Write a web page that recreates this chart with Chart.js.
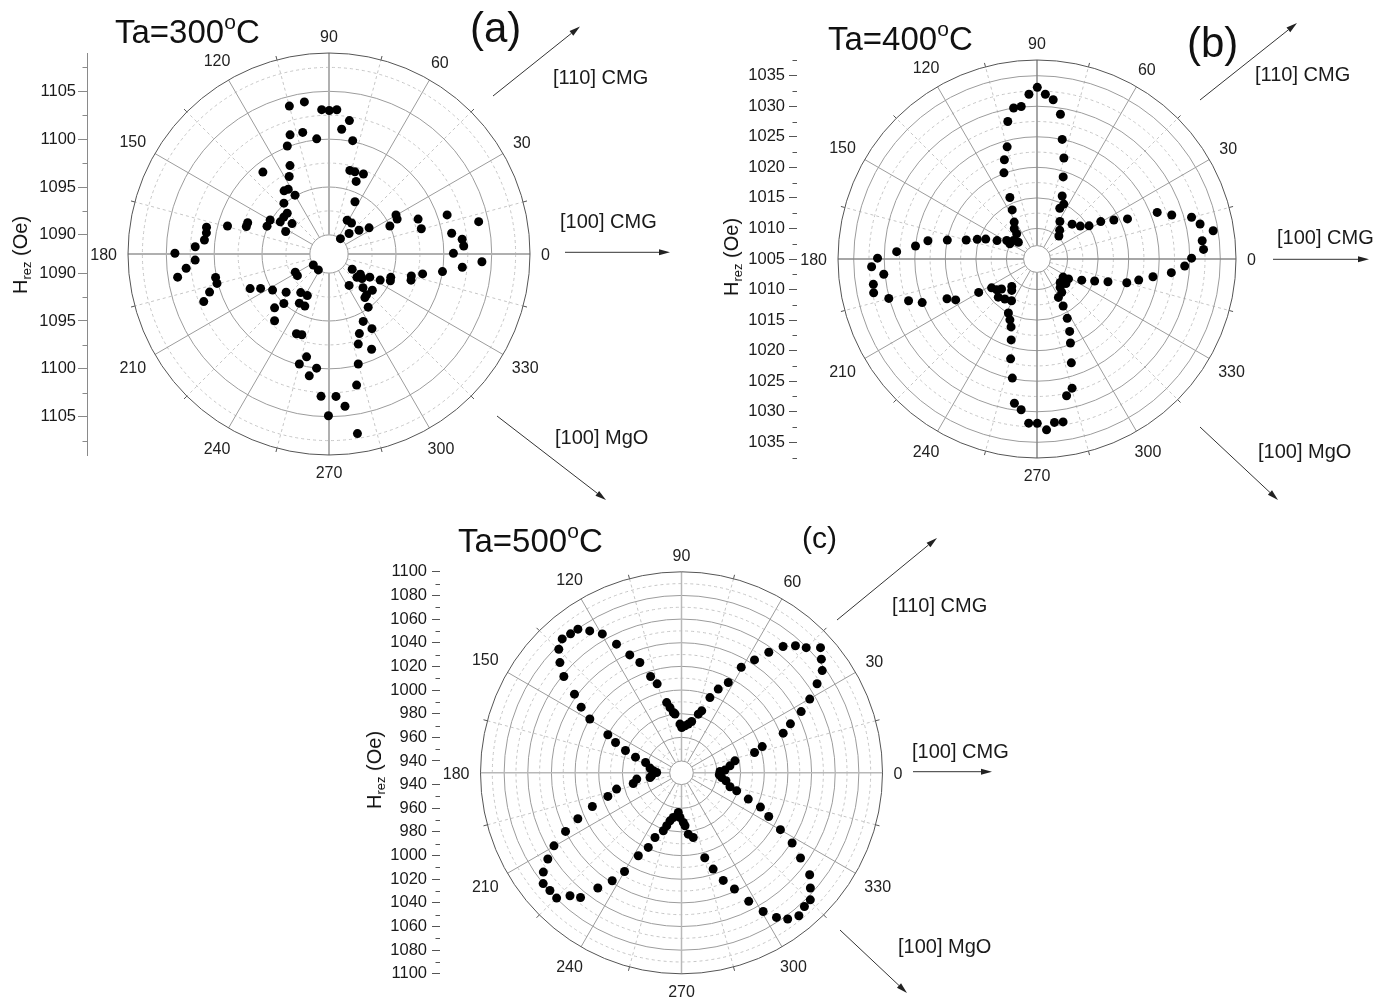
<!DOCTYPE html>
<html><head><meta charset="utf-8">
<script src="https://cdn.jsdelivr.net/npm/chart.js@4/dist/chart.umd.min.js"></script>
<style>
html,body{margin:0;padding:0;background:#fff;}
body{width:1386px;height:1003px;position:relative;overflow:hidden;font-family:"Liberation Sans",Arial,sans-serif;color:#111;}
canvas{position:absolute;}
.t{position:absolute;white-space:nowrap;line-height:1;}
.sup{font-size:21px;vertical-align:14px;line-height:0;}
.ylab{position:absolute;white-space:nowrap;line-height:1;font-size:20px;transform:translate(-50%,-50%) rotate(-90deg);color:#111;}
.ylab sub{font-size:13px;vertical-align:-4px;line-height:0;}
.d{font-size:20px;color:#1a1a1a;}
</style></head><body>
<canvas id="cA" width="690" height="510" style="left:0px;top:0px"></canvas>
<canvas id="cB" width="696" height="510" style="left:690px;top:0px"></canvas>
<canvas id="cC" width="680" height="493" style="left:340px;top:510px"></canvas>

<div class="t" style="left:115px;top:14.8px;font-size:33px">Ta=300<span class="sup">o</span>C</div>
<div class="t" style="left:828px;top:22.1px;font-size:33px">Ta=400<span class="sup">o</span>C</div>
<div class="t" style="left:458px;top:523.8px;font-size:33px">Ta=500<span class="sup">o</span>C</div>
<div class="t" style="left:470px;top:7.2px;font-size:42px">(a)</div>
<div class="t" style="left:1187px;top:22.4px;font-size:42px">(b)</div>
<div class="t" style="left:802px;top:523.2px;font-size:30px">(c)</div>

<div class="t d" style="left:553px;top:67.4px">[110] CMG</div>
<div class="t d" style="left:560px;top:210.8px">[100] CMG</div>
<div class="t d" style="left:555px;top:427.4px">[100] MgO</div>
<div class="t d" style="left:1255px;top:64.1px">[110] CMG</div>
<div class="t d" style="left:1277px;top:227.4px">[100] CMG</div>
<div class="t d" style="left:1258px;top:440.8px">[100] MgO</div>
<div class="t d" style="left:892px;top:594.6px">[110] CMG</div>
<div class="t d" style="left:912px;top:740.8px">[100] CMG</div>
<div class="t d" style="left:898px;top:935.8px">[100] MgO</div>

<div class="ylab" style="left:20px;top:255px">H<sub>rez</sub> (Oe)</div>
<div class="ylab" style="left:730.5px;top:256.5px">H<sub>rez</sub> (Oe)</div>
<div class="ylab" style="left:373.7px;top:770px">H<sub>rez</sub> (Oe)</div>

<script>
// ---------- data: angle (deg) and resonance field H_rez (Oe) ----------
const angleLabels = [0,30,60,90,120,150,180,210,240,270,300,330];

// (a) Ta = 300 C
const angA = [105.0,99.2,92.9,89.9,86.9,81.3,84.2,78.2,96.1,102.2,
108.1,111.1,113.8,117.2,128.9,125.4,122.2,120.0,131.6,135.7,
140.8,146.6,140.5,152.6,150.0,155.8,159.0,161.6,164.6,167.7,
170.2,173.6,176.9,179.7,188.7,185.7,182.6,191.7,194.7,197.7,
200.8,203.7,206.7,212.6,221.7,227.6,224.7,230.8,208.3,214.4,
233.8,242.5,238.9,245.1,215.0,236.2,247.8,251.4,257.7,254.9,
263.8,260.8,266.8,272.8,269.8,53.3,76.0,72.5,66.7,69.5,
63.6,61.7,54.0,45.6,38.4,33.1,30.2,27.1,24.7,21.4,
15.3,18.3,9.6,6.3,3.4,12.2,0.3,357.1,354.3,351.2,
348.0,345.1,342.3,339.3,336.4,333.0,330.4,327.2,323.4,326.7,
320.1,302.6,315.3,312.6,309.5,306.4,296.9,299.9,290.9,288.0,
294.1,284.9,281.9,276.0,279.0,320.1];
const hA = [1104.0,1104.1,1103.1,1103.0,1103.1,1102.1,1101.1,1100.1,1100.1,1101.0,
1101.1,1100.1,1098.1,1097.1,1099.0,1096.1,1096.0,1095.1,1095.1,1094.1,
1094.1,1094.1,1093.0,1093.1,1095.1,1095.1,1097.1,1097.1,1099.0,1101.1,
1101.0,1101.1,1102.0,1104.1,1104.0,1103.0,1102.0,1100.1,1100.1,1101.1,
1102.0,1097.0,1096.0,1095.0,1094.0,1095.0,1096.0,1097.0,1092.0,1092.0,
1093.0,1092.9,1094.0,1094.0,1090.0,1090.0,1097.0,1096.9,1099.0,1099.9,
1100.0,1100.9,1102.9,1102.9,1104.9,1090.0,1097.0,1097.0,1097.1,1096.1,
1094.1,1092.0,1092.0,1091.0,1092.0,1093.0,1096.1,1096.0,1095.0,1098.0,
1098.0,1101.0,1101.0,1102.0,1102.1,1104.0,1101.0,1104.0,1102.0,1100.0,
1098.0,1096.9,1097.0,1094.9,1095.0,1094.0,1092.9,1091.9,1092.3,1090.9,
1091.8,1091.9,1093.0,1093.8,1093.9,1094.9,1095.9,1097.0,1096.9,1097.9,
1098.9,1099.9,1102.0,1104.0,1107.0,1093.9];
const ticksA = [1090,1095,1100,1105];
const minorA = [1092.5,1097.5,1102.5,1107.5];

// (b) Ta = 400 C
const angB = [89.9,92.8,95.9,98.8,102.0,104.9,108.2,111.0,113.8,116.8,
121.7,126.9,128.9,142.0,138.1,150.6,148.6,155.3,158.8,161.8,
165.0,168.1,170.5,173.9,177.0,179.7,182.7,185.7,188.8,191.7,
194.9,198.0,200.8,203.8,206.7,209.8,212.4,217.4,220.2,227.4,
231.2,224.6,231.2,238.6,242.1,246.0,249.1,252.3,255.2,258.3,
261.1,264.0,267.1,270.1,273.2,276.1,279.1,282.2,285.2,288.3,
291.7,294.3,297.0,299.1,299.1,306.6,309.2,314.7,319.8,325.3,
327.7,334.7,339.1,342.2,345.2,348.3,351.3,354.2,357.3,0.3,
3.3,6.3,9.1,12.1,15.1,18.1,21.2,23.9,26.9,30.4,
32.5,37.2,44.8,46.5,51.8,58.6,65.8,64.0,68.2,72.3,
75.1,78.1,80.8,84.2,87.1];
const hB = [1033.1,1032.0,1030.1,1030.0,1028.0,1024.0,1022.1,1020.1,1016.0,1014.0,
1012.1,1011.2,1010.3,1009.9,1009.1,1010.1,1010.8,1012.2,1014.0,1015.3,
1017.0,1020.0,1023.1,1025.0,1028.0,1031.1,1032.1,1030.2,1032.1,1032.3,
1030.1,1027.1,1025.1,1021.1,1019.9,1016.0,1013.8,1013.3,1012.6,1011.1,
1011.6,1013.9,1013.4,1013.0,1015.0,1015.9,1016.9,1018.9,1021.9,1024.9,
1028.9,1029.8,1031.9,1031.9,1033.0,1031.9,1032.0,1027.9,1026.9,1022.9,
1019.8,1018.0,1015.9,1013.8,1012.2,1011.8,1011.0,1010.4,1011.2,1010.2,
1011.1,1013.1,1015.1,1017.2,1020.2,1022.0,1024.2,1027.1,1029.2,1030.3,
1032.3,1032.2,1034.2,1032.3,1031.2,1028.2,1026.1,1021.2,1019.1,1017.1,
1015.1,1013.9,1013.1,1010.2,1011.0,1012.2,1014.1,1015.0,1016.1,1019.1,
1022.1,1025.0,1029.0,1031.2,1032.0];
const ticksB = [1005,1010,1015,1020,1025,1030,1035];
const minorB = [1007.5,1012.5,1017.5,1022.5,1027.5,1032.5,1037.5];

// (c) Ta = 500 C
const angC = [125.8,128.6,131.7,134.8,137.8,140.7,143.7,146.8,149.6,152.7,
155.3,158.3,161.2,164.0,171.5,175.9,179.3,185.7,188.5,188.0,
192.5,194.1,197.8,200.7,203.9,206.8,209.8,212.8,215.7,218.7,
221.8,225.1,227.8,231.0,234.0,237.3,240.0,242.5,246.0,247.7,
252.6,254.4,256.5,259.6,265.4,268.1,272.1,273.8,276.3,280.3,
285.3,288.2,291.2,294.5,297.6,300.5,303.3,306.0,309.4,312.6,
315.4,318.2,321.5,324.4,327.6,330.1,333.4,336.5,338.5,341.9,
343.9,349.8,353.3,357.0,1.9,3.6,8.2,12.6,15.5,18.0,
21.3,24.2,27.1,29.9,33.3,36.0,39.1,42.0,45.1,48.1,
51.2,54.1,57.1,60.5,62.6,66.3,69.3,71.9,74.0,78.8,
82.1,85.7,89.7,91.8,96.3,97.7,100.0,101.9,105.3,107.8,
110.7,113.7,116.8,119.7,122.9];
const hC = [1079.8,1080.4,1081.7,1077.3,1068.8,1058.6,1042.3,1031.4,1019.9,1000.1,
991.4,981.0,971.1,961.6,956.9,953.9,951.0,955.4,956.9,968.2,
971.8,986.6,995.4,1010.6,1025.9,1039.9,1054.3,1064.5,1073.9,1079.9,
1079.3,1079.6,1070.4,1065.7,1050.4,1038.5,1026.4,1009.1,999.1,989.1,
981.4,976.5,971.8,968.4,963.6,967.8,972.0,974.9,982.2,985.6,
1004.5,1015.7,1027.6,1038.0,1052.7,1066.1,1076.3,1082.8,1086.4,1083.6,
1083.0,1076.2,1068.5,1053.8,1040.8,1026.5,1012.5,1002.8,990.7,979.1,
972.7,968.2,964.2,962.0,962.6,966.8,971.4,976.3,994.1,1001.8,
1022.3,1031.0,1043.7,1055.1,1067.2,1077.1,1082.4,1088.2,1079.4,1074.3,
1067.1,1055.9,1043.7,1032.6,1016.0,1007.3,998.0,985.1,981.6,974.2,
971.6,969.8,968.3,971.2,980.0,981.5,986.0,990.7,1008.0,1015.5,
1029.7,1038.9,1051.9,1065.2,1072.9];
const ticksC = [940,960,980,1000,1020,1040,1060,1080,1100];
const minorC = [950,970,990,1010,1030,1050,1070,1090];

// ---------- drawing ----------
const FONT = '"Liberation Sans", Arial, sans-serif';

function makePanel(p) {
  const W = 80;
  const padL = p.axisX - p.left - W;
  const padR = p.left + p.cw - (p.cx + p.R);
  const padT = p.cy - p.R - p.top;
  const padB = p.top + p.ch - (p.cy + p.R);
  const Ru = p.R / p.k;
  const pts = p.ang.map((a, i) => {
    const r = p.h[i] - p.Hc, t = a * Math.PI / 180;
    return {x: r * Math.cos(t), y: r * Math.sin(t)};
  });
  const majorOff = [];
  p.major.forEach(v => { const o = v - p.Hc; if (Math.abs(o) < 1e-9) majorOff.push(0); else { majorOff.push(o, -o); } });
  majorOff.sort((a, b) => a - b);

  const plugin = {
    id: 'polar_' + p.id,
    beforeDatasetsDraw(chart) {
      const ctx = chart.ctx, xs = chart.scales.x, ys = chart.scales.y;
      const X = xs.getPixelForValue(0), Y = ys.getPixelForValue(0);
      const rad = v => Math.abs(ys.getPixelForValue(v - p.Hc) - Y);
      const Rpx = Math.abs(ys.getPixelForValue(Ru) - Y);
      const r0 = rad(p.Hc + p.hole);
      ctx.save();
      // dashed minor circles
      ctx.setLineDash([3, 3]); ctx.lineWidth = 1; ctx.strokeStyle = '#c6c6c6';
      p.minor.forEach(v => { const r = rad(v); if (r > r0 + 2 && r < Rpx - 2) { ctx.beginPath(); ctx.arc(X, Y, r, 0, 2 * Math.PI); ctx.stroke(); } });
      for (let a = 15; a < 360; a += 30) {
        const t = a * Math.PI / 180;
        ctx.beginPath(); ctx.moveTo(X + r0 * Math.cos(t), Y - r0 * Math.sin(t));
        ctx.lineTo(X + Rpx * Math.cos(t), Y - Rpx * Math.sin(t)); ctx.stroke();
      }
      ctx.setLineDash([]);
      // solid major circles
      ctx.strokeStyle = '#9c9c9c';
      p.major.forEach(v => { const r = rad(v); if (r > r0 + 1 && r < Rpx - 1) { ctx.beginPath(); ctx.arc(X, Y, r, 0, 2 * Math.PI); ctx.stroke(); } });
      // solid radial lines
      for (let a = 0; a < 360; a += 30) {
        const t = a * Math.PI / 180;
        const main = (a % 90 === 0);
        ctx.strokeStyle = main ? p.mainLine : '#9c9c9c';
        ctx.lineWidth = main ? p.mainWidth : 1;
        ctx.beginPath(); ctx.moveTo(X + r0 * Math.cos(t), Y - r0 * Math.sin(t));
        ctx.lineTo(X + Rpx * Math.cos(t), Y - Rpx * Math.sin(t)); ctx.stroke();
      }
      ctx.lineWidth = 1;
      // hole
      ctx.fillStyle = '#fff'; ctx.strokeStyle = '#9c9c9c';
      ctx.beginPath(); ctx.arc(X, Y, r0, 0, 2 * Math.PI); ctx.fill(); ctx.stroke();
      // outer circle
      ctx.strokeStyle = '#555';
      ctx.beginPath(); ctx.arc(X, Y, Rpx, 0, 2 * Math.PI); ctx.stroke();
      for (let a = 15; a < 360; a += 30) {
        const t = a * Math.PI / 180;
        ctx.beginPath(); ctx.moveTo(X + Rpx * Math.cos(t), Y - Rpx * Math.sin(t));
        ctx.lineTo(X + (Rpx + 4) * Math.cos(t), Y - (Rpx + 4) * Math.sin(t)); ctx.stroke();
      }
      // minor ticks of the H axis
      const L = chart.chartArea.left;
      ctx.strokeStyle = p.tickColor;
      p.minor.forEach(v => {
        [1, -1].forEach(s => {
          const off = s * (v - p.Hc);
          if (Math.abs(off) <= Ru + 1e-6) {
            const y = Math.round(ys.getPixelForValue(off)) + 0.5;
            ctx.beginPath(); ctx.moveTo(L - 4.5, y); ctx.lineTo(L, y); ctx.stroke();
          }
        });
      });
      ctx.restore();
    },
    afterDraw(chart) {
      const ctx = chart.ctx, xs = chart.scales.x, ys = chart.scales.y;
      const X = xs.getPixelForValue(0), Y = ys.getPixelForValue(0);
      const Rpx = Math.abs(ys.getPixelForValue(Ru) - Y);
      ctx.save();
      ctx.font = '16px ' + FONT; ctx.fillStyle = '#222';
      ctx.textAlign = 'center'; ctx.textBaseline = 'alphabetic';
      angleLabels.forEach(a => {
        const t = a * Math.PI / 180, s = String(a);
        const w = ctx.measureText(s).width;
        const ext = Math.abs(Math.cos(t)) * w / 2 + Math.abs(Math.sin(t)) * 6;
        const rr = Rpx + 11 + ext;
        ctx.fillText(s, X + rr * Math.cos(t), Y - rr * Math.sin(t) + 5.8);
      });
      // direction arrows
      ctx.strokeStyle = '#333'; ctx.fillStyle = '#222'; ctx.lineWidth = 1;
      p.arrows.forEach(ar => {
        const x1 = ar[0] - p.left, y1 = ar[1] - p.top, x2 = ar[2] - p.left, y2 = ar[3] - p.top;
        const ang = Math.atan2(y2 - y1, x2 - x1);
        const hl = 11, hw = 3;
        const bx = x2 - hl * Math.cos(ang), by = y2 - hl * Math.sin(ang);
        ctx.beginPath(); ctx.moveTo(x1, y1); ctx.lineTo(bx, by); ctx.stroke();
        ctx.beginPath(); ctx.moveTo(x2, y2);
        ctx.lineTo(bx + hw * Math.sin(ang), by - hw * Math.cos(ang));
        ctx.lineTo(bx - hw * Math.sin(ang), by + hw * Math.cos(ang));
        ctx.closePath(); ctx.fill();
      });
      ctx.restore();
    }
  };

  return new Chart(document.getElementById(p.id), {
    type: 'scatter',
    data: { datasets: [{ data: pts, backgroundColor: '#000', borderColor: '#000', borderWidth: 0,
      pointRadius: 4.5, pointHoverRadius: 4.5, clip: false }] },
    options: {
      responsive: false, animation: false, events: [],
      layout: { padding: { left: padL, right: padR, top: padT, bottom: padB } },
      plugins: { legend: { display: false }, tooltip: { enabled: false }, title: { display: false } },
      scales: {
        x: { type: 'linear', display: false, min: (p.axisX - p.cx) / p.k, max: Ru },
        y: {
          type: 'linear', min: -Ru, max: Ru,
          afterFit(s) { s.width = W; },
          afterBuildTicks(s) { s.ticks = majorOff.map(v => ({ value: v })); },
          ticks: { autoSkip: false, padding: p.tickPad, color: '#1a1a1a',
            font: { family: FONT, size: 16.5 },
            callback: v => String(Math.round(p.Hc + Math.abs(v))) },
          grid: { display: true, drawOnChartArea: false, drawTicks: true,
            tickLength: p.tickLen, tickColor: p.tickColor, tickWidth: 1 },
          border: { display: p.axisLine, color: '#8a8a8a', width: 1 }
        }
      }
    },
    plugins: [plugin]
  });
}

makePanel({ id: 'cA', left: 0, top: 0, cw: 690, ch: 510, cx: 329, cy: 254, R: 201, k: 9.57, Hc: 1088,
  hole: 2, axisX: 87, ang: angA, h: hA, major: ticksA, minor: minorA, axisLine: true,
  tickLen: 9, tickPad: 2, tickColor: '#8a8a8a', mainLine: '#b0b0b0', mainWidth: 2,
  arrows: [[493, 96, 580, 26.5], [565, 252.3, 670, 252.3], [497, 416, 606, 500]] });

makePanel({ id: 'cB', left: 690, top: 0, cw: 696, ch: 510, cx: 1037, cy: 259, R: 199, k: 6.11, Hc: 1005,
  hole: 2.2, axisX: 797, ang: angB, h: hB, major: ticksB, minor: minorB, axisLine: false,
  tickLen: 8, tickPad: 4, tickColor: '#555', mainLine: '#888', mainWidth: 1.5,
  arrows: [[1200, 100, 1297, 23], [1273, 259.3, 1369, 259.3], [1200, 427, 1278, 500]] });

makePanel({ id: 'cC', left: 340, top: 510, cw: 680, ch: 493, cx: 681.5, cy: 772.8, R: 201, k: 1.1824, Hc: 930,
  hole: 10, axisX: 440, ang: angC, h: hC, major: ticksC, minor: minorC, axisLine: false,
  tickLen: 8, tickPad: 5, tickColor: '#555', mainLine: '#b8b8b8', mainWidth: 1.5,
  arrows: [[837, 620, 937, 538], [913, 771.7, 992, 771.7], [840, 930, 907, 993]] });
</script>
</body></html>
